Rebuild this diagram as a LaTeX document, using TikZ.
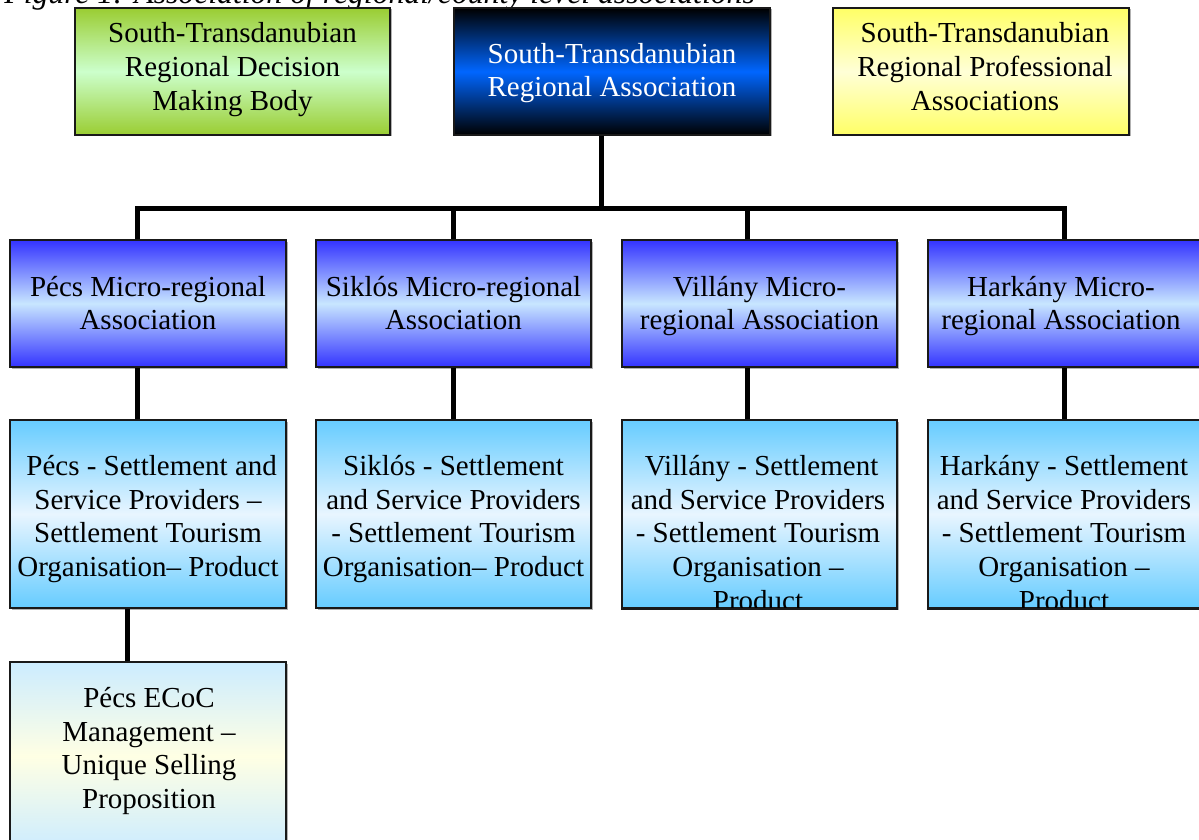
\documentclass[tikz,border=0pt]{standalone}
\usepackage{fontspec}
\setmainfont{Liberation Serif}
\usetikzlibrary{shadows}
\definecolor{cgreen}{RGB}{154,205,50}
\definecolor{cgreenl}{RGB}{204,255,204}
\definecolor{cnavy}{RGB}{0,0,0}
\definecolor{cnavym}{RGB}{0,102,255}
\definecolor{cyel}{RGB}{255,255,102}
\definecolor{cyell}{RGB}{255,255,215}
\definecolor{cblue}{RGB}{51,51,255}
\definecolor{cbluel}{RGB}{200,230,255}
\definecolor{csky}{RGB}{102,204,255}
\definecolor{cskyl}{RGB}{232,245,255}
\definecolor{cpale}{RGB}{204,236,255}
\definecolor{cpalel}{RGB}{255,255,228}
\tikzset{
  box/.style={rectangle, draw=black!90, line width=1.6pt, inner sep=0pt,
    drop shadow={shadow xshift=1.5pt, shadow yshift=-1.5pt, fill=black!50, opacity=0.6}},
  greenfill/.style={top color=cgreen, bottom color=cgreen, middle color=cgreenl},
  navyfill/.style={top color=cnavy, bottom color=cnavy, middle color=cnavym},
  yelfill/.style={top color=cyel, bottom color=cyel, middle color=cyell},
  bluefill/.style={top color=cblue, bottom color=cblue, middle color=cbluel},
  skyfill/.style={top color=csky, bottom color=csky, middle color=cskyl},
  palefill/.style={top color=cpale, bottom color=cpale, middle color=cpalel},
  rowtop/.style={minimum height=127pt},
  rowmid/.style={minimum height=127pt, minimum width=275pt},
  rowlow/.style={minimum height=188pt, minimum width=275pt},
  txt/.style={align=center, inner sep=0pt, font=\fontsize{29}{33.7}\selectfont},
  conn/.style={line width=5pt, draw=black, line join=miter}
}
\begin{document}
\begin{tikzpicture}[x=1pt, y=-1pt]
\useasboundingbox (0,0) rectangle (1199,840);
\fill[white] (0,0) rectangle (1199,840);

% caption (cut off at top)
\node[anchor=base east, inner sep=0pt, font=\fontsize{31.7}{36}\selectfont\itshape] (cap) at (755,4) {Figure 1: Association of regional/county level associations};

% top row
\node[box, greenfill, rowtop, minimum width=315pt] (gdb) at (232.5,71.5) {};
\node[txt] (gdbt) at (232.5,69.5) {South-Transdanubian\\Regional Decision\\Making Body};
\node[box, navyfill, rowtop, minimum width=316pt] (sta) at (612,71.5) {};
\node[txt, text=white] (stat) at (612,73) {South-Transdanubian\\Regional Association};
\node[box, yelfill, rowtop, minimum width=296pt] (spa) at (981,71.5) {};
\node[txt] (spat) at (985,66.5) {South-Transdanubian\\Regional Professional\\Associations};

% micro-regional row
\node[box, bluefill, rowmid, minimum width=276pt] (p2) at (148,303.5) {};
\node[txt] (p2t) at (148,303) {Pécs Micro-regional\\Association};
\node[box, bluefill, rowmid] (s2) at (453.5,303.5) {};
\node[txt] (s2t) at (453.5,303) {Siklós Micro-regional\\Association};
\node[box, bluefill, rowmid] (v2) at (759.5,303.5) {};
\node[txt] (v2t) at (759.5,306) {Villány Micro-\\regional Association};
\node[box, bluefill, rowmid] (h2) at (1065.5,303.5) {};
\node[txt] (h2t) at (1061,306) {Harkány Micro-\\regional Association};

% settlement row
\node[box, skyfill, rowlow, minimum width=276pt] (p3) at (148,514) {};
\node[txt] (p3t) at (148,519) {\ Pécs - Settlement and\\Service Providers –\\Settlement Tourism\\Organisation– Product};
\node[box, skyfill, rowlow] (s3) at (453.5,514) {};
\node[txt] (s3t) at (453.5,519) {Siklós - Settlement\\and Service Providers\\- Settlement Tourism\\Organisation– Product};
\node[box, skyfill, rowlow] (v3) at (759.5,514) {};
\node[box, skyfill, rowlow] (h3) at (1065.5,514) {};
\begin{scope}
  \clip (v3.south west) rectangle (v3.north east);
  \node[txt] (v3t) at (758,533) {\ Villány - Settlement\\and Service Providers\\- Settlement Tourism\\Organisation –\\Product};
\end{scope}
\begin{scope}
  \clip (h3.south west) rectangle (h3.north east);
  \node[txt] (h3t) at (1064,533) {Harkány - Settlement\\and Service Providers\\- Settlement Tourism\\Organisation –\\Product};
\end{scope}
\draw[draw=black!90, line width=1.6pt] (v3.south west) -- (v3.south east);
\draw[draw=black!90, line width=1.6pt] (h3.south west) -- (h3.south east);

% ECoC row
\node[box, palefill, rowlow, minimum width=276pt] (p4) at (148,756) {};
\node[txt] (p4t) at (149,751) {Pécs ECoC\\Management –\\Unique Selling\\Proposition};

% connectors
\coordinate (busL) at (137,208);
\coordinate (busM) at (601,208);
\coordinate (busR) at (1064,208);
\draw[conn] (sta.south -| busM) -- (busM);
\draw[conn] (busL |- p2.north) -- (busL) -- (busR) -- (busR |- h2.north);
\draw[conn] (s2.north |- busL) -- (s2.north);
\draw[conn] (busL -| 747,0) -- (v2.north -| 747,0);
\draw[conn] (p2.south -| busL) -- (p3.north -| busL);
\draw[conn] (s2.south) -- (s3.north);
\draw[conn] (v2.south -| 747,0) -- (v3.north -| 747,0);
\draw[conn] (h2.south -| busR) -- (h3.north -| busR);
\draw[conn] (p3.south -| 127,0) -- (p4.north -| 127,0);
\end{tikzpicture}
\end{document}
